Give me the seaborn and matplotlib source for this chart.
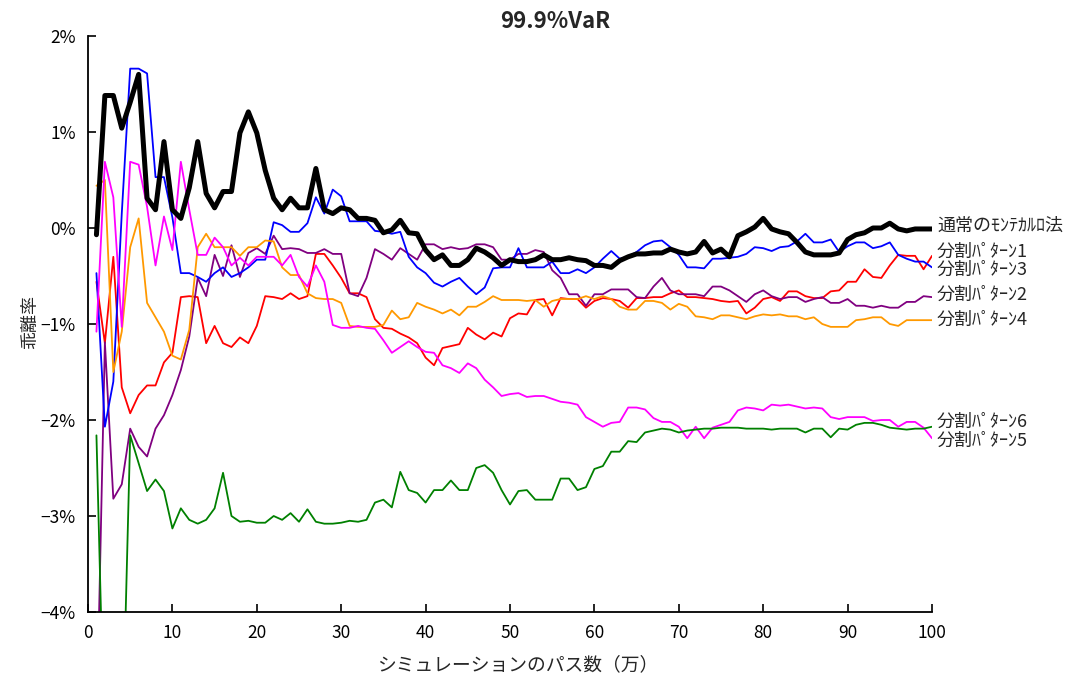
import numpy as np
import pandas as pd
import matplotlib
matplotlib.use("Agg")
import matplotlib.pyplot as plt
from matplotlib.ticker import FuncFormatter
import seaborn as sns

paths = list(range(1, 101))

normal_mc = [-0.07, 1.38, 1.38, 1.04, 1.31, 1.60, 0.31, 0.19, 0.90, 0.19,
             0.10, 0.42, 0.90, 0.36, 0.21, 0.38, 0.38, 0.99, 1.21, 0.99,
             0.60, 0.31, 0.19, 0.31, 0.21, 0.21, 0.62, 0.19, 0.15, 0.21,
             0.19, 0.10, 0.10, 0.08, -0.05, -0.02, 0.08, -0.05, -0.06, -0.23,
             -0.33, -0.28, -0.39, -0.39, -0.33, -0.21, -0.25, -0.31, -0.39, -0.33,
             -0.35, -0.35, -0.33, -0.28, -0.33, -0.33, -0.31, -0.33, -0.34, -0.39,
             -0.39, -0.41, -0.34, -0.30, -0.27, -0.27, -0.26, -0.26, -0.22, -0.25,
             -0.27, -0.25, -0.14, -0.26, -0.22, -0.30, -0.08, -0.04, 0.01, 0.10,
             -0.01, -0.04, -0.06, -0.15, -0.25, -0.28, -0.28, -0.28, -0.26, -0.12,
             -0.07, -0.05, 0.00, 0.00, 0.05, -0.01, -0.03, -0.01, -0.01, -0.01]

pattern1 = [-0.56, -1.20, -0.30, -1.66, -1.93, -1.74, -1.64, -1.64, -1.40, -1.30,
            -0.72, -0.71, -0.72, -1.20, -1.02, -1.20, -1.24, -1.14, -1.20, -1.02,
            -0.71, -0.72, -0.74, -0.68, -0.74, -0.71, -0.27, -0.27, -0.39, -0.52,
            -0.68, -0.68, -0.72, -0.95, -1.04, -1.05, -1.10, -1.14, -1.20, -1.35,
            -1.43, -1.25, -1.23, -1.21, -1.04, -1.11, -1.16, -1.09, -1.13, -0.94,
            -0.89, -0.90, -0.75, -0.74, -0.91, -0.73, -0.74, -0.74, -0.83, -0.76,
            -0.73, -0.74, -0.76, -0.83, -0.73, -0.73, -0.72, -0.72, -0.68, -0.65,
            -0.72, -0.72, -0.73, -0.74, -0.76, -0.77, -0.76, -0.89, -0.83, -0.74,
            -0.72, -0.76, -0.66, -0.66, -0.71, -0.73, -0.73, -0.66, -0.65, -0.56,
            -0.56, -0.43, -0.51, -0.52, -0.39, -0.28, -0.29, -0.29, -0.43, -0.29]

pattern2 = [-5.30, -1.19, -2.82, -2.67, -2.09, -2.28, -2.38, -2.09, -1.95, -1.74,
            -1.48, -1.13, -0.52, -0.71, -0.28, -0.50, -0.18, -0.51, -0.26, -0.21,
            -0.27, -0.08, -0.22, -0.21, -0.22, -0.26, -0.26, -0.22, -0.27, -0.27,
            -0.68, -0.71, -0.52, -0.22, -0.27, -0.33, -0.21, -0.27, -0.33, -0.17,
            -0.17, -0.22, -0.20, -0.22, -0.21, -0.17, -0.17, -0.20, -0.33, -0.33,
            -0.27, -0.27, -0.23, -0.25, -0.44, -0.52, -0.69, -0.69, -0.81, -0.69,
            -0.69, -0.64, -0.64, -0.64, -0.72, -0.73, -0.61, -0.52, -0.65, -0.69,
            -0.69, -0.69, -0.71, -0.61, -0.61, -0.65, -0.71, -0.77, -0.69, -0.65,
            -0.71, -0.74, -0.72, -0.72, -0.77, -0.74, -0.72, -0.78, -0.78, -0.74,
            -0.81, -0.81, -0.83, -0.81, -0.83, -0.83, -0.77, -0.77, -0.71, -0.72]

pattern3 = [-0.47, -2.07, -1.60, 0.15, 1.66, 1.66, 1.61, 0.53, 0.53, 0.11,
            -0.47, -0.47, -0.51, -0.56, -0.47, -0.41, -0.51, -0.47, -0.41, -0.33,
            -0.33, 0.06, 0.03, -0.04, -0.04, 0.05, 0.32, 0.15, 0.40, 0.33,
            0.07, 0.07, 0.07, -0.03, -0.04, -0.06, -0.04, -0.30, -0.41, -0.47,
            -0.57, -0.61, -0.56, -0.52, -0.61, -0.69, -0.62, -0.42, -0.41, -0.41,
            -0.21, -0.41, -0.41, -0.41, -0.35, -0.47, -0.47, -0.43, -0.47, -0.41,
            -0.32, -0.24, -0.32, -0.30, -0.25, -0.18, -0.14, -0.13, -0.20, -0.28,
            -0.41, -0.41, -0.42, -0.32, -0.32, -0.31, -0.30, -0.27, -0.20, -0.21,
            -0.24, -0.20, -0.19, -0.14, -0.06, -0.15, -0.15, -0.12, -0.25, -0.19,
            -0.15, -0.15, -0.21, -0.19, -0.15, -0.28, -0.32, -0.35, -0.35, -0.41]

pattern4 = [0.44, 0.50, -1.50, -1.08, -0.20, 0.10, -0.78, -0.93, -1.08, -1.33,
            -1.37, -1.06, -0.20, -0.06, -0.20, -0.20, -0.20, -0.29, -0.20, -0.20,
            -0.13, -0.14, -0.41, -0.49, -0.49, -0.68, -0.73, -0.74, -0.74, -0.78,
            -1.02, -1.03, -1.03, -1.03, -1.01, -0.86, -0.95, -0.93, -0.78, -0.82,
            -0.85, -0.89, -0.85, -0.91, -0.82, -0.82, -0.77, -0.71, -0.75, -0.75,
            -0.75, -0.76, -0.75, -0.82, -0.76, -0.74, -0.74, -0.74, -0.71, -0.74,
            -0.71, -0.74, -0.82, -0.85, -0.85, -0.76, -0.76, -0.78, -0.85, -0.79,
            -0.82, -0.92, -0.93, -0.95, -0.91, -0.91, -0.93, -0.95, -0.92, -0.90,
            -0.91, -0.90, -0.92, -0.92, -0.95, -0.93, -1.00, -1.03, -1.03, -1.03,
            -0.96, -0.95, -0.93, -0.93, -1.00, -1.02, -0.96, -0.96, -0.96, -0.96]

pattern5 = [-1.08, 0.69, 0.32, -1.03, 0.69, 0.66, 0.22, -0.39, 0.12, -0.23,
            0.69, 0.19, -0.28, -0.28, -0.10, -0.20, -0.39, -0.31, -0.39, -0.30,
            -0.30, -0.30, -0.39, -0.28, -0.51, -0.61, -0.39, -0.56, -1.01, -1.04,
            -1.04, -1.02, -1.04, -1.05, -1.17, -1.30, -1.24, -1.18, -1.24, -1.29,
            -1.30, -1.43, -1.46, -1.51, -1.41, -1.46, -1.58, -1.66, -1.75, -1.73,
            -1.72, -1.76, -1.75, -1.75, -1.78, -1.81, -1.82, -1.84, -1.97, -2.02,
            -2.07, -2.03, -2.02, -1.87, -1.87, -1.89, -1.98, -2.02, -2.02, -2.07,
            -2.19, -2.07, -2.19, -2.08, -2.05, -2.02, -1.90, -1.87, -1.88, -1.90,
            -1.84, -1.85, -1.84, -1.86, -1.88, -1.87, -1.88, -1.97, -1.99, -1.97,
            -1.97, -1.97, -2.01, -2.00, -2.00, -2.07, -2.02, -2.02, -2.08, -2.19]

pattern6 = [-2.16, -5.60, -5.80, -5.60, -2.16, -2.45, -2.74, -2.62, -2.74, -3.13,
            -2.92, -3.04, -3.08, -3.04, -2.92, -2.55, -3.00, -3.06, -3.05, -3.07,
            -3.07, -3.00, -3.04, -2.97, -3.06, -2.93, -3.06, -3.08, -3.08, -3.07,
            -3.05, -3.06, -3.04, -2.86, -2.83, -2.91, -2.54, -2.73, -2.76, -2.86,
            -2.73, -2.73, -2.63, -2.73, -2.73, -2.50, -2.47, -2.55, -2.73, -2.88,
            -2.74, -2.73, -2.83, -2.83, -2.83, -2.61, -2.61, -2.73, -2.70, -2.51,
            -2.48, -2.33, -2.33, -2.22, -2.23, -2.13, -2.11, -2.09, -2.10, -2.13,
            -2.11, -2.10, -2.09, -2.09, -2.08, -2.08, -2.08, -2.09, -2.09, -2.09,
            -2.10, -2.09, -2.09, -2.09, -2.13, -2.09, -2.09, -2.18, -2.09, -2.10,
            -2.05, -2.03, -2.03, -2.05, -2.08, -2.09, -2.10, -2.09, -2.09, -2.07]

series_names = ["通常のﾓﾝﾃｶﾙﾛ法", "分割ﾊﾟﾀｰﾝ1", "分割ﾊﾟﾀｰﾝ2", "分割ﾊﾟﾀｰﾝ3",
                "分割ﾊﾟﾀｰﾝ4", "分割ﾊﾟﾀｰﾝ5", "分割ﾊﾟﾀｰﾝ6"]
series_values = [normal_mc, pattern1, pattern2, pattern3, pattern4, pattern5, pattern6]
series_colors = ["#000000", "#FF0000", "#800080", "#0000FF", "#FF9900", "#FF00FF", "#008000"]
series_widths = [3.6, 1.3, 1.3, 1.3, 1.3, 1.3, 1.3]
# vertical positions (in %) of the end labels on the right
label_y = [0.02, -0.25, -0.70, -0.44, -0.96, -2.22, -2.02]

x_ticks = list(range(0, 101, 10))
y_ticks = [-4, -3, -2, -1, 0, 1, 2]

sns.set_style("ticks")
plt.rcParams["font.family"] = ["Noto Sans CJK JP", "DejaVu Sans"]

fig = plt.figure(figsize=(10.71, 6.84), dpi=100)
ax = fig.add_axes([88 / 1071, 72 / 684, 844 / 1071, 576 / 684])

order = [1, 2, 3, 4, 5, 6, 0]
for i in order:
    df = pd.DataFrame({"path": paths, "value": series_values[i]})
    sns.lineplot(data=df, x="path", y="value", color=series_colors[i],
                 linewidth=series_widths[i], ax=ax, legend=False)

ax.set_xlim(0, 100)
ax.set_ylim(-4, 2)
ax.set_xticks(x_ticks)
ax.set_yticks(y_ticks)
ax.yaxis.set_major_formatter(FuncFormatter(lambda v, p: f"{v:g}%".replace("-", "−")))
ax.set_xlabel("")
ax.set_ylabel("")
ax.tick_params(axis="both", direction="in", length=6, width=1.2, labelsize=12.5, colors="black")
ax.tick_params(axis="x", pad=9)
ax.tick_params(axis="y", pad=9)
sns.despine(ax=ax)
for s in ["left", "bottom"]:
    ax.spines[s].set_linewidth(1.3)
    ax.spines[s].set_color("black")

for name, ly in zip(series_names, label_y):
    ax.text(100.6, ly, name, fontsize=13, va="center", ha="left", clip_on=False)

fig.text(555 / 1071, 1 - 22 / 684, "99.9%VaR", ha="center", va="center",
         fontsize=16, fontweight="bold")
fig.text(30 / 1071, 1 - 322 / 684, "乖離率", rotation=90, ha="center", va="center",
         fontsize=13)
fig.text(518 / 1071, 1 - 665 / 684, "シミュレーションのパス数（万）", ha="center",
         va="center", fontsize=13.5)

fig.savefig("out.png", dpi=100, facecolor="white")
